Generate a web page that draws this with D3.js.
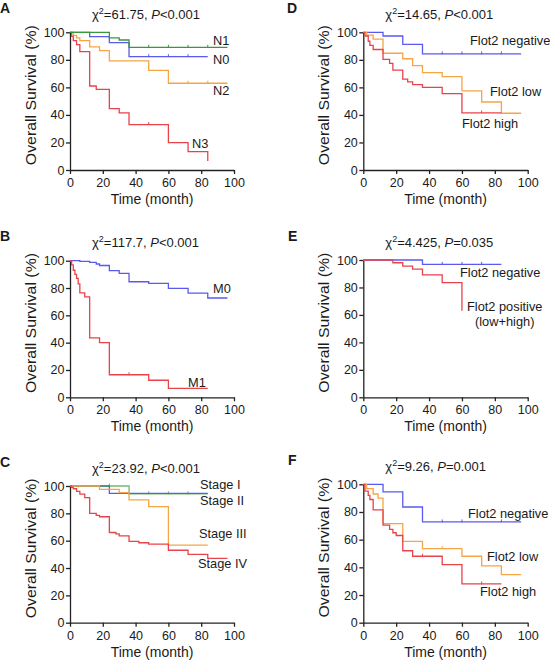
<!DOCTYPE html>
<html><head><meta charset="utf-8">
<script src="https://cdn.jsdelivr.net/npm/d3@7"></script>
<style>
body{margin:0;background:#fff;}
svg{display:block;font-family:Arial,"Liberation Sans",sans-serif;}
</style></head>
<body>
<svg id="chart" width="550" height="661"></svg>
<script>
// ---------- data (time in months, survival in %) ----------
const xTicks = [0, 20, 40, 60, 80, 100];
const yTicks = [0, 20, 40, 60, 80, 100];

// Panel A
const A_N0_t = [0, 12, 24, 36, 84];
const A_N0_s = [100, 96.9, 92.5, 82.3, 82.3];
const A_N0_c = [48, 60, 72];
const A_N1_t = [0, 24, 30, 36, 96];
const A_N1_s = [100, 95.9, 94.4, 89.1, 89.1];
const A_N1_c = [48, 60, 72, 84];
const A_N2_t = [0, 2, 4, 6, 12, 18, 24, 48, 60, 96];
const A_N2_s = [100, 97.8, 95.9, 93.9, 89.4, 86.7, 79.2, 72.4, 63, 63];
const A_N2_c = [72, 84];
const A_N3_t = [0, 1, 2, 4, 6, 12, 16, 24, 30, 36, 60, 72, 84];
const A_N3_s = [100, 97, 94, 91, 86, 61, 58.5, 44.5, 41.5, 33, 19.9, 13.3, 6.5];
const A_N3_c = [48];

// Panel B
const B_M0_t = [0, 6, 12, 16, 18, 24, 30, 36, 48, 60, 72, 84, 96];
const B_M0_s = [100, 99.5, 98.8, 97.6, 96.5, 92.7, 90.7, 84.6, 83.4, 79.8, 76.3, 72.7, 72.7];
const B_M0_c = [];
const B_M1_t = [0, 1, 2, 3, 4, 5, 6, 9, 12, 18, 24, 48, 60, 84];
const B_M1_s = [100, 97, 93, 90, 87, 83, 76.5, 73.5, 43.5, 40, 16.5, 12.5, 6.5, 6.5];
const B_M1_c = [36];

// Panel C
const C_S1_t = [0, 36, 84];
const C_S1_s = [100, 94.3, 94.3];
const C_S1_c = [24, 48, 60, 72];
const C_S2_t = [0, 24, 84];
const C_S2_s = [100, 94.6, 94.6];
const C_S2_c = [];
const C_S3_t = [0, 18, 30, 36, 48, 60, 84];
const C_S3_s = [100, 97.6, 95.1, 89.8, 84.9, 56.8, 56.8];
const C_S3_c = [];
const C_S4_t = [0, 1, 2, 4, 6, 9, 12, 16, 18, 24, 28, 30, 36, 42, 48, 60, 72, 84, 96];
const C_S4_s = [100, 99, 98, 96, 94, 91.5, 80, 78.5, 77.5, 66, 65, 63.5, 59.5, 58.5, 57.5, 53, 50, 47, 47];
const C_S4_c = [];

// Panel D
const D_neg_t = [0, 12, 24, 36, 96];
const D_neg_s = [100, 97.3, 91.3, 84.3, 84.3];
const D_neg_c = [48, 60, 72, 84];
const D_low_t = [0, 2, 6, 12, 24, 30, 36, 48, 60, 72, 84, 96];
const D_low_s = [100, 98, 95, 84.8, 80.8, 75.8, 70.7, 67.8, 57.4, 49.4, 41.2, 41.2];
const D_low_c = [];
const D_high_t = [0, 1, 3, 4, 6, 12, 16, 18, 24, 27, 30, 36, 48, 60, 84];
const D_high_s = [100, 97.3, 93.5, 90.5, 87.5, 80.4, 77.5, 72.5, 66, 64, 62, 60, 55.5, 41.5, 41.5];
const D_high_c = [72];

// Panel E
const E_neg_t = [0, 36, 84];
const E_neg_s = [100, 96.8, 96.8];
const E_neg_c = [48, 60, 72];
const E_pos_t = [0, 18, 24, 30, 36, 48, 60];
const E_pos_s = [100, 98, 95.6, 93.4, 89.1, 83.5, 63.1];
const E_pos_c = [];

// Panel F
const F_neg_t = [0, 12, 24, 36, 96];
const F_neg_s = [100, 94.5, 83.6, 72.8, 72.8];
const F_neg_c = [48, 60, 84];
const F_low_t = [0, 2, 6, 9, 12, 24, 36, 60, 72, 84, 96];
const F_low_s = [100, 96.9, 93, 90, 71.6, 58.8, 53.5, 48, 41, 34.7, 34.7];
const F_low_c = [48];
const F_high_t = [0, 1, 3, 4, 6, 12, 16, 18, 20, 24, 30, 48, 60, 84];
const F_high_s = [100, 95, 92, 89, 81.5, 70.5, 67.5, 65, 63, 52, 48, 42, 28, 28];
const F_high_c = [36, 72];

// ---------- styling ----------
const BLUE = "#5a5aee", GREEN = "#3a973a", ORANGE = "#f5a545", RED = "#e8434b";

const panels = [
  { letter: "A", lx: 0, chi: "61.75", pOp: "<", pVal: "0.001", left: 70, right: 234, top: 32.3, bottom: 170,
    series: [
      { t: A_N2_t, s: A_N2_s, c: A_N2_c, color: ORANGE },
      { t: A_N0_t, s: A_N0_s, c: A_N0_c, color: BLUE },
      { t: A_N3_t, s: A_N3_s, c: A_N3_c, color: RED },
      { t: A_N1_t, s: A_N1_s, c: A_N1_c, color: GREEN }],
    labels: [["N1", 213, 45], ["N0", 213, 64], ["N2", 213, 95], ["N3", 192, 148]] },
  { letter: "B", lx: 0, chi: "117.7", pOp: "<", pVal: "0.001", left: 70, right: 234, top: 260.7, bottom: 397.3,
    series: [
      { t: B_M0_t, s: B_M0_s, c: B_M0_c, color: BLUE },
      { t: B_M1_t, s: B_M1_s, c: B_M1_c, color: RED }],
    labels: [["M0", 213, 293], ["M1", 188, 387]] },
  { letter: "C", lx: 0, chi: "23.92", pOp: "<", pVal: "0.001", left: 70, right: 234, top: 486, bottom: 622.7,
    series: [
      { t: C_S2_t, s: C_S2_s, c: C_S2_c, color: BLUE },
      { t: C_S1_t, s: C_S1_s, c: C_S1_c, color: GREEN, op: 0.7 },
      { t: C_S3_t, s: C_S3_s, c: C_S3_c, color: ORANGE },
      { t: C_S4_t, s: C_S4_s, c: C_S4_c, color: RED }],
    labels: [["Stage I", 200, 489], ["Stage II", 200, 505], ["Stage III", 199, 538], ["Stage IV", 198, 568]] },
  { letter: "D", lx: 287, chi: "14.65", pOp: "<", pVal: "0.001", left: 363.3, right: 527.7, top: 32.3, bottom: 170,
    series: [
      { t: D_neg_t, s: D_neg_s, c: D_neg_c, color: BLUE },
      { t: D_low_t, s: D_low_s, c: D_low_c, color: ORANGE },
      { t: D_high_t, s: D_high_s, c: D_high_c, color: RED }],
    labels: [["Flot2 negative", 470, 45], ["Flot2 low", 490, 96], ["Flot2 high", 462, 128]] },
  { letter: "E", lx: 288, chi: "4.425", pOp: "=", pVal: "0.035", left: 363.3, right: 527.7, top: 260, bottom: 397.3,
    series: [
      { t: E_neg_t, s: E_neg_s, c: E_neg_c, color: BLUE },
      { t: E_pos_t, s: E_pos_s, c: E_pos_c, color: RED }],
    labels: [["Flot2 negative", 460, 277], ["Flot2 positive", 467, 311], ["(low+high)", 475, 326]] },
  { letter: "F", lx: 288, chi: "9.26", pOp: "=", pVal: "0.001", left: 363.3, right: 527.7, top: 484.3, bottom: 622.7,
    series: [
      { t: F_neg_t, s: F_neg_s, c: F_neg_c, color: BLUE },
      { t: F_low_t, s: F_low_s, c: F_low_c, color: ORANGE },
      { t: F_high_t, s: F_high_s, c: F_high_c, color: RED }],
    labels: [["Flot2 negative", 468, 518], ["Flot2 low", 487, 561], ["Flot2 high", 480, 596]] }
];

const svg = d3.select("#chart");
const TXT = "#1a1a1a";

panels.forEach(p => {
  const x = d3.scaleLinear().domain([0, 100]).range([p.left, p.right]);
  const y = d3.scaleLinear().domain([0, 100]).range([p.bottom, p.top]);
  const g = svg.append("g");

  // panel letter
  g.append("text").attr("x", p.lx).attr("y", p.top - 19.5)
    .attr("font-size", 14).attr("font-weight", "bold").attr("fill", TXT).text(p.letter);

  // title
  const t = g.append("text").attr("x", p.left + 22).attr("y", p.top - 13.5)
    .attr("font-size", 13).attr("fill", TXT);
  t.append("tspan").text("χ");
  t.append("tspan").attr("dy", -5).attr("font-size", 9).text("2");
  t.append("tspan").attr("dy", 5).text("=" + p.chi + ", ");
  t.append("tspan").attr("font-style", "italic").text("P");
  t.append("tspan").text(p.pOp + p.pVal);

  // axes
  const ax = g.append("g").attr("transform", `translate(0,${p.bottom})`)
    .call(d3.axisBottom(x).tickValues(xTicks).tickSize(4).tickSizeOuter(0).tickPadding(4));
  const ay = g.append("g").attr("transform", `translate(${p.left},0)`)
    .call(d3.axisLeft(y).tickValues(yTicks).tickSize(4).tickSizeOuter(0).tickPadding(1.5));
  [ax, ay].forEach(a => {
    a.selectAll("path,line").attr("stroke", "#222").attr("stroke-width", 1.3);
    a.selectAll("text").attr("font-size", 12.5).attr("fill", TXT)
      .attr("font-family", 'Arial,"Liberation Sans",sans-serif');
  });

  // axis titles
  g.append("text").attr("x", (p.left + p.right) / 2).attr("y", p.bottom + 34)
    .attr("text-anchor", "middle").attr("font-size", 14).attr("fill", TXT).text("Time (month)");
  g.append("text").attr("transform", `translate(${p.left - 34},${(p.top + p.bottom) / 2 - 6}) rotate(-90)`)
    .attr("text-anchor", "middle").attr("font-size", 14.5).attr("fill", TXT)
    .attr("textLength", 140).attr("lengthAdjust", "spacingAndGlyphs").text("Overall Survival (%)");

  // curves
  const line = d3.line().x(d => x(d[0])).y(d => y(d[1])).curve(d3.curveStepAfter);
  p.series.forEach(s => {
    const pts = s.t.map((tt, i) => [tt, s.s[i]]);
    g.append("path").attr("d", line(pts)).attr("fill", "none")
      .attr("stroke", s.color).attr("stroke-width", 1.3).attr("stroke-opacity", s.op || 1);
    // censor marks
    s.c.forEach(ct => {
      let v = s.s[0];
      s.t.forEach((tt, i) => { if (tt <= ct) v = s.s[i]; });
      g.append("line").attr("x1", x(ct)).attr("x2", x(ct))
        .attr("y1", y(v) - 2.5).attr("y2", y(v) + 0.5)
        .attr("stroke", s.color).attr("stroke-width", 1).attr("stroke-opacity", s.op || 1);
    });
  });

  // curve labels
  p.labels.forEach(l => {
    g.append("text").attr("x", l[1]).attr("y", l[2]).attr("font-size", 12.8)
      .attr("fill", TXT).text(l[0]);
  });
});
</script>
</body></html>
